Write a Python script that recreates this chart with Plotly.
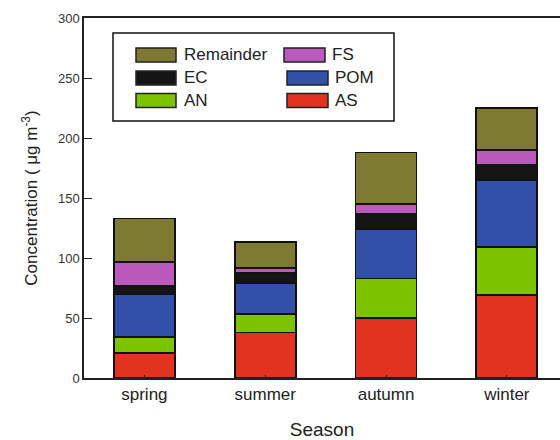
import plotly.graph_objects as go

seasons = ["spring", "summer", "autumn", "winter"]
AS = [21, 38, 50, 69]
AN = [13, 15.5, 33, 40]
POM = [36, 26, 41, 56]
EC = [7, 8.5, 13, 13]
FS = [20, 3.5, 8, 12]
Remainder = [36, 22, 43, 35]

series = [("AS", AS), ("AN", AN), ("POM", POM), ("EC", EC), ("FS", FS), ("Remainder", Remainder)]
colors = {
    "AS": "#e03320",
    "AN": "#7dc400",
    "POM": "#3350a8",
    "EC": "#151515",
    "FS": "#bb5abd",
    "Remainder": "#7f7a32",
}

fig = go.Figure()
for name, vals in series:
    fig.add_trace(go.Bar(
        x=seasons, y=vals, name=name, width=0.505,
        marker=dict(color=colors[name], line=dict(color="#111111", width=1.8)),
        showlegend=False,
    ))

# manual legend (paper coords computed from pixels)
W, H = 560, 440
ml, mr, mt, mb = 84, 0, 18, 62
pw, ph = W - ml - mr, H - mt - mb

def px(x):
    return (x - ml) / pw

def py(y):
    return (H - mb - y) / ph

shapes = [dict(type="rect", xref="paper", yref="paper",
               x0=px(113), x1=px(394), y0=py(121), y1=py(33),
               line=dict(color="#111111", width=1.5), fillcolor="white", layer="above")]
annotations = []
legend_items = [
    ("Remainder", 136, 176, 55, 182),
    ("EC", 136, 176, 78, 182),
    ("AN", 136, 176, 100.5, 182),
    ("FS", 284, 325, 55, 330),
    ("POM", 287, 328, 78, 333),
    ("AS", 287, 328, 100.5, 333),
]
for name, x0, x1, yc, tx in legend_items:
    shapes.append(dict(type="rect", xref="paper", yref="paper",
                       x0=px(x0), x1=px(x1), y0=py(yc + 7), y1=py(yc - 7),
                       fillcolor=colors[name], line=dict(color="#222222", width=1.5), layer="above"))
    annotations.append(dict(xref="paper", yref="paper", x=px(tx), y=py(yc), text=name,
                            showarrow=False, xanchor="left", yanchor="middle",
                            font=dict(size=17, color="#222222", family="Liberation Sans, Arial")))

fig.update_layout(
    barmode="stack",
    width=W, height=H,
    margin=dict(l=ml, r=mr, t=mt, b=mb),
    plot_bgcolor="white", paper_bgcolor="white",
    font=dict(family="Liberation Sans, Arial", color="#222222"),
    shapes=shapes,
    annotations=annotations,
    xaxis=dict(
        range=[-0.5, 3.44], showline=True, linecolor="#222222", linewidth=1.5,
        mirror=True, ticks="inside", ticklen=3, tickcolor="#222222",
        tickfont=dict(size=17, color="#222222"),
        title=dict(text="Season", font=dict(size=19, color="#222222"), standoff=22),
    ),
    yaxis=dict(
        range=[0, 300], dtick=50, showline=True, linecolor="#222222", linewidth=1.5,
        ticks="inside", ticklen=8, tickcolor="#222222", showgrid=False, zeroline=False,
        tickfont=dict(size=13, color="#333333"),
        title=dict(text="Concentration ( μg m<sup>-3</sup>)", font=dict(size=17, color="#222222"), standoff=16),
    ),
)

fig.write_html("out.html")
